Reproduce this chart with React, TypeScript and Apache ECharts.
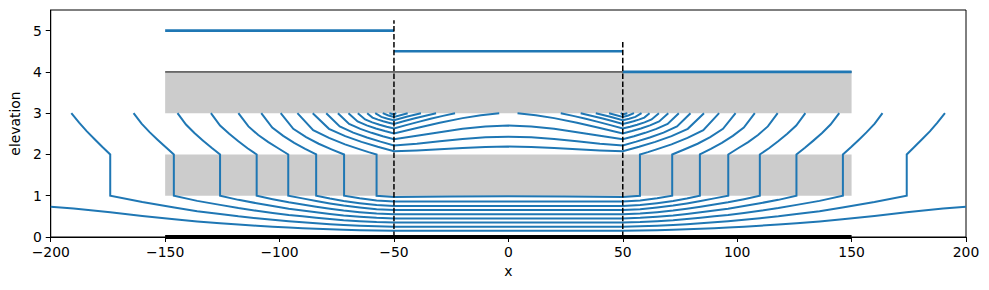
import React, { useEffect, useRef } from "react";
import * as echarts from "echarts";

// axis ticks
const xTicks = [-200, -150, -100, -50, 0, 50, 100, 150, 200];
const yTicks = [0, 1, 2, 3, 4, 5];

// aquitards: [xStart, xEnd, yBottom, yTop]
const aquitards = [
  [-150, 150, 3, 4],
  [-150, 150, 1, 2],
];

// head lines in the top layer
const headLeft = [[-150, 5], [-50, 5]];
const headMiddle = [[-50, 4.5], [50, 4.5]];
const headRight = [[50, 4], [150, 4]];
const modelTop = [[-150, 4], [150, 4]];
const modelBottom = [[-150, 0], [150, 0]];
const wellLeft = [[-50, 0], [-50, 5.25]];
const wellRight = [[50, 0], [50, 4.75]];

// streamline entering through the left boundary
const boundaryLine = [
  [-200, 0.732], [-190, 0.688], [-174, 0.6], [-160, 0.508], [-146, 0.429], [-136, 0.375],
  [-126, 0.333], [-118, 0.3], [-110, 0.273], [-103, 0.25], [-96, 0.229], [-90, 0.214],
  [-84, 0.2], [-78, 0.186], [-72, 0.174], [-65, 0.164], [-57.6, 0.155], [-50, 0.15],
  [50, 0.15], [57.6, 0.155], [65, 0.164], [72, 0.174], [78, 0.186], [84, 0.2], [90, 0.214],
  [96, 0.229], [103, 0.25], [110, 0.273], [118, 0.3], [126, 0.333], [136, 0.375],
  [146, 0.429], [160, 0.508], [174, 0.6], [190, 0.688], [200, 0.735],
];

// deep streamlines (through the lower aquitard)
const deep1 = [
  [-191, 3], [-187.6, 2.77], [-184.2, 2.56], [-180.8, 2.37], [-177.4, 2.18], [-174, 2], [-174, 1],
  [-160, 0.847], [-146, 0.714], [-136, 0.625], [-126, 0.556], [-118, 0.5], [-110, 0.455],
  [-103, 0.417], [-96, 0.382], [-90, 0.357], [-84, 0.333], [-78, 0.311], [-72, 0.291],
  [-65, 0.273], [-57.6, 0.258], [-50, 0.25], [50, 0.25], [57.6, 0.258], [65, 0.273],
  [72, 0.291], [78, 0.311], [84, 0.333], [90, 0.357], [96, 0.382], [103, 0.417], [110, 0.455],
  [118, 0.5], [126, 0.556], [136, 0.625], [146, 0.714], [160, 0.847], [174.1, 1], [174.1, 2],
  [177.4, 2.18], [180.8, 2.37], [184.2, 2.56], [187.5, 2.77], [190.8, 3],
];
const deep2 = [
  [-163.8, 3], [-160.3, 2.745], [-156.8, 2.541], [-153.2, 2.352], [-149.7, 2.173], [-146.2, 2],
  [-146.2, 1], [-136, 0.875], [-126, 0.778], [-118, 0.7], [-110, 0.636], [-103, 0.583],
  [-96, 0.534], [-90, 0.5], [-84, 0.467], [-78, 0.435], [-72, 0.407], [-65, 0.383],
  [-57.6, 0.361], [-50, 0.35], [50, 0.35], [57.6, 0.361], [65, 0.383], [72, 0.407],
  [78, 0.435], [84, 0.467], [90, 0.5], [96, 0.534], [103, 0.583], [110, 0.636], [118, 0.7],
  [126, 0.778], [136, 0.875], [146.2, 1], [146.2, 2], [149.7, 2.173], [153.1, 2.352],
  [156.6, 2.541], [160.1, 2.745], [163.5, 3],
];
const deep3 = [
  [-144.6, 3], [-140.9, 2.724], [-137.2, 2.519], [-133.4, 2.335], [-129.7, 2.163], [-126, 2],
  [-126, 1], [-118, 0.9], [-110, 0.818], [-103, 0.75], [-96, 0.687], [-90, 0.643], [-84, 0.6],
  [-78, 0.559], [-72, 0.523], [-65, 0.492], [-57.6, 0.464], [-50, 0.45], [50, 0.45],
  [57.6, 0.464], [65, 0.492], [72, 0.523], [78, 0.559], [84, 0.6], [90, 0.643], [96, 0.687],
  [103, 0.75], [110, 0.818], [118, 0.9], [125.9, 1], [125.9, 2], [129.6, 2.163],
  [133.3, 2.335], [137.1, 2.519], [140.8, 2.724], [144.6, 3],
];
const deep4 = [
  [-130, 3], [-126, 2.7], [-122, 2.5], [-118, 2.32], [-114, 2.15], [-110, 2], [-110, 1],
  [-103, 0.917], [-96, 0.84], [-90, 0.786], [-84, 0.733], [-78, 0.683], [-72, 0.64],
  [-65, 0.601], [-57.6, 0.567], [-50, 0.55], [50, 0.55], [57.6, 0.567], [65, 0.601],
  [72, 0.64], [78, 0.683], [84, 0.733], [90, 0.786], [96, 0.84], [103, 0.917], [109.9, 1],
  [109.9, 2], [113.9, 2.15], [117.9, 2.32], [121.9, 2.5], [125.8, 2.7], [129.8, 3],
];
const deep5 = [
  [-118, 3], [-113.6, 2.68], [-109.3, 2.47], [-104.9, 2.3], [-100.6, 2.15], [-96.2, 2],
  [-96.2, 1], [-90, 0.936], [-84, 0.873], [-78, 0.814], [-72, 0.762], [-65, 0.716],
  [-57.6, 0.675], [-50, 0.655], [50, 0.655], [57.6, 0.675], [65, 0.716], [72, 0.762],
  [78, 0.814], [84, 0.873], [90, 0.936], [96.1, 1], [96.1, 2], [100.4, 2.15], [104.8, 2.3],
  [109.1, 2.47], [113.4, 2.68], [117.7, 3],
];
const deep6 = [
  [-108, 3], [-103.2, 2.65], [-98.4, 2.45], [-93.6, 2.28], [-88.8, 2.135], [-84, 2], [-84, 1],
  [-78, 0.932], [-72, 0.872], [-65, 0.82], [-57.6, 0.773], [-50, 0.75], [50, 0.75],
  [57.6, 0.773], [65, 0.82], [72, 0.872], [78, 0.932], [83.7, 1], [83.7, 2], [88.5, 2.135],
  [93.3, 2.28], [98.1, 2.45], [102.9, 2.65], [107.7, 3],
];
const deep7 = [
  [-99.5, 3], [-94, 2.62], [-88.4, 2.42], [-82.9, 2.26], [-77.3, 2.125], [-71.8, 2],
  [-71.8, 1], [-65, 0.94], [-57.6, 0.887], [-50, 0.86], [50, 0.86], [57.6, 0.887], [65, 0.94],
  [71.6, 1], [71.6, 2], [77.1, 2.125], [82.7, 2.26], [88.2, 2.42], [93.8, 2.62], [99.3, 3],
];
const deep8 = [
  [-92.2, 3], [-85.3, 2.59], [-78.4, 2.4], [-71.4, 2.245], [-64.5, 2.116], [-61.1, 2.056],
  [-57.6, 2], [-57.6, 1], [-50, 0.97], [-25, 0.982], [0, 0.99], [25, 0.982], [50, 0.97],
  [57.5, 1], [57.5, 2], [61, 2.056], [64.4, 2.116], [71.3, 2.245], [78.3, 2.4], [85.2, 2.59],
  [92.1, 3],
];

// shallow streamlines (stay in the middle aquifer)
const shallow1 = [
  [-85.5, 3], [-78.4, 2.621], [-71.3, 2.444], [-64.2, 2.305], [-57.1, 2.187], [-50, 2.08],
  [-40, 2.098], [-30, 2.126], [-20, 2.157], [-10, 2.181], [0, 2.19], [10, 2.181], [20, 2.157],
  [30, 2.126], [40, 2.098], [50, 2.08], [57.1, 2.187], [64.2, 2.305], [71.3, 2.444],
  [78.4, 2.621], [85.5, 3],
];
const shallow2 = [
  [-79.6, 3], [-73.7, 2.679], [-67.8, 2.529], [-61.8, 2.411], [-55.9, 2.31], [-50, 2.22],
  [-40, 2.262], [-30, 2.318], [-20, 2.374], [-10, 2.415], [0, 2.43], [10, 2.415], [20, 2.374],
  [30, 2.318], [40, 2.262], [50, 2.22], [55.9, 2.31], [61.8, 2.411], [67.8, 2.529],
  [73.7, 2.679], [79.6, 3],
];
const shallow3 = [
  [-74.5, 3], [-69.6, 2.74], [-64.7, 2.619], [-59.8, 2.524], [-54.9, 2.443], [-50, 2.37],
  [-40, 2.451], [-30, 2.54], [-20, 2.622], [-10, 2.679], [0, 2.7], [10, 2.679], [20, 2.622],
  [30, 2.54], [40, 2.451], [50, 2.37], [54.9, 2.443], [59.8, 2.524], [64.7, 2.619],
  [69.6, 2.74], [74.5, 3],
];
const shallow4Left = [
  [-69.9, 3], [-65.9, 2.798], [-61.9, 2.704], [-57.9, 2.63], [-54, 2.567], [-50, 2.51],
  [-40, 2.64], [-30, 2.77], [-20, 2.88], [-12, 2.95], [-4, 3],
];
const shallow4Right = [
  [4, 3], [12, 2.95], [20, 2.88], [30, 2.77], [40, 2.64], [50, 2.51], [54, 2.567],
  [57.9, 2.63], [61.9, 2.704], [65.9, 2.798], [69.9, 3],
];
const shallow5Left = [
  [-65.8, 3], [-62.6, 2.848], [-59.5, 2.777], [-56.3, 2.721], [-53.2, 2.673], [-50, 2.63],
  [-44.7, 2.71], [-39.3, 2.79], [-34, 2.865], [-28.6, 2.935], [-23.3, 3],
];
const shallow5Right = [
  [22.9, 3], [28.3, 2.935], [33.8, 2.865], [39.2, 2.79], [44.6, 2.71], [50, 2.63],
  [53.2, 2.673], [56.3, 2.721], [59.5, 2.777], [62.6, 2.848], [65.8, 3],
];
const shallow6Left = [
  [-61.7, 3], [-59.4, 2.893], [-57, 2.843], [-54.7, 2.804], [-52.3, 2.77], [-50, 2.74],
  [-45.4, 2.81], [-40.8, 2.875], [-36.2, 2.94], [-31.6, 3],
];
const shallow6Right = [
  [31.6, 3], [36.2, 2.94], [40.8, 2.875], [45.4, 2.81], [50, 2.74], [52.3, 2.77],
  [54.7, 2.804], [57, 2.843], [59.4, 2.893], [61.7, 3],
];
const shallow7Left = [[-58.2, 3], [-55.5, 2.91], [-52.8, 2.865], [-50, 2.83], [-44.1, 2.92], [-38.2, 3]];
const shallow7Right = [[38.2, 3], [44.1, 2.92], [50, 2.83], [52.8, 2.865], [55.5, 2.91], [58.2, 3]];
const shallow8Left = [[-54.9, 3], [-52.4, 2.945], [-50, 2.91], [-44, 3]];
const shallow8Right = [[44, 3], [50, 2.91], [52.4, 2.945], [54.9, 3]];
const shallow9Left = [[-52, 3], [-50, 2.97], [-49, 3]];
const shallow9Right = [[49.1, 3], [50, 2.97], [52, 3]];

const streamlines = [
  boundaryLine, deep1, deep2, deep3, deep4, deep5, deep6, deep7, deep8,
  shallow1, shallow2, shallow3, shallow4Left, shallow4Right, shallow5Left, shallow5Right,
  shallow6Left, shallow6Right, shallow7Left, shallow7Right, shallow8Left, shallow8Right,
  shallow9Left, shallow9Right,
];

const BLUE = "#1f77b4";
const FONT = "DejaVu Sans";

function lineSeries(data: number[][], color: string, width: number, extra: any = {}) {
  return {
    type: "line",
    data,
    showSymbol: false,
    symbol: "none",
    silent: true,
    lineStyle: { color, width, cap: "butt", join: "miter", ...(extra.lineStyle || {}) },
    z: extra.z ?? 3,
    clip: extra.clip ?? true,
  };
}

export default function App() {
  const ref = useRef<HTMLDivElement>(null);
  useEffect(() => {
    if (!ref.current) return;
    const chart = echarts.init(ref.current, undefined, { renderer: "svg" });
    const fmt = (v: number) => String(v).replace("-", "\u2212");
    const series: any[] = [
      {
        type: "custom",
        silent: true,
        z: 1,
        data: aquitards,
        encode: { x: [0, 1], y: [2, 3] },
        renderItem: (_p: any, api: any) => {
          const a = api.coord([api.value(0), api.value(3)]);
          const b = api.coord([api.value(1), api.value(2)]);
          return {
            type: "rect",
            shape: { x: a[0], y: a[1], width: b[0] - a[0], height: b[1] - a[1] },
            style: { fill: "#cccccc" },
          };
        },
      },
      ...streamlines.map((d) => lineSeries(d, BLUE, 2, { z: 3 })),
      lineSeries(modelTop, "#000", 1, { z: 4 }),
      lineSeries(headLeft, BLUE, 2.6, { z: 5 }),
      lineSeries(headMiddle, BLUE, 2.6, { z: 5 }),
      lineSeries(headRight, BLUE, 2.6, { z: 5 }),
      lineSeries(modelBottom, "#000", 4.2, { z: 6, clip: false }),
      lineSeries(wellLeft, "#000", 1.5, { z: 7, lineStyle: { type: [5.5, 2.4] } }),
      lineSeries(wellRight, "#000", 1.5, { z: 7, lineStyle: { type: [5.5, 2.4] } }),
    ];
    chart.setOption({
      animation: false,
      textStyle: { fontFamily: FONT },
      grid: {
        left: 49,
        right: 23,
        top: 10,
        bottom: 53,
        show: true,
        borderColor: "#000",
        borderWidth: 1,
        containLabel: false,
      },
      xAxis: {
        type: "value",
        min: -200,
        max: 200,
        interval: 50,
        name: "x",
        nameLocation: "middle",
        nameGap: 27,
        nameTextStyle: { color: "#000", fontSize: 13.9, fontFamily: FONT },
        axisLine: { show: true, onZero: false, lineStyle: { color: "#000", width: 1 } },
        axisTick: { show: true, length: 5, lineStyle: { color: "#000", width: 1 }, customValues: xTicks },
        axisLabel: { color: "#000", fontSize: 13.9, fontFamily: FONT, margin: 8, formatter: fmt, customValues: xTicks },
        splitLine: { show: false },
      },
      yAxis: {
        type: "value",
        min: 0,
        max: 5.5,
        interval: 1,
        name: "elevation",
        nameLocation: "middle",
        nameGap: 25,
        nameRotate: 90,
        nameTextStyle: { color: "#000", fontSize: 13.9, fontFamily: FONT },
        axisLine: { show: true, onZero: false, lineStyle: { color: "#000", width: 1 } },
        axisTick: { show: true, length: 5, lineStyle: { color: "#000", width: 1 }, customValues: yTicks },
        axisLabel: { color: "#000", fontSize: 13.9, fontFamily: FONT, margin: 9, formatter: fmt, customValues: yTicks },
        splitLine: { show: false },
      },
      series,
    });
    return () => chart.dispose();
  }, []);
  return (
    <div
      ref={ref}
      style={{ position: "fixed", left: 0, top: 0, width: 989, height: 290, background: "#fff" }}
    />
  );
}
